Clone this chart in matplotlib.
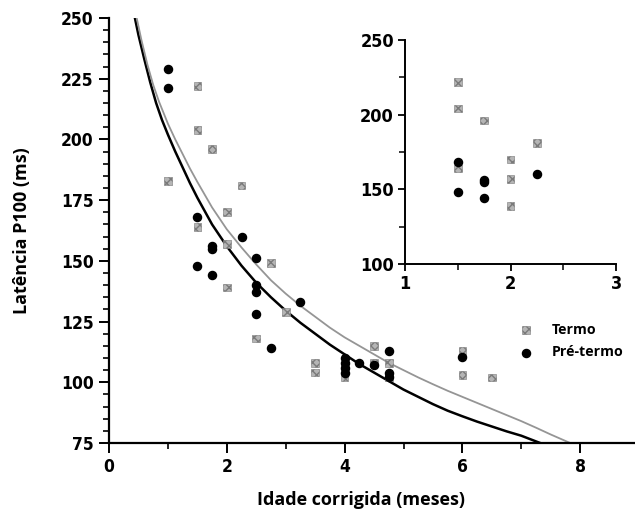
import matplotlib.pyplot as plt
import numpy as np

# Dados (idade corrigida em meses, latência P100 em ms)
termo_x = [1.0, 1.5, 1.5, 1.5, 1.75, 2.0, 2.0, 2.0, 2.25, 2.5, 2.75, 3.0,
           3.5, 3.5, 4.0, 4.0, 4.5, 4.5, 4.75, 4.75, 6.0, 6.0, 6.5]
termo_y = [183, 222, 204, 164, 196, 170, 157, 139, 181, 118, 149, 129,
           108, 104, 102, 106, 115, 108, 108, 102, 113, 103, 102]

pre_x = [1.0, 1.0, 1.5, 1.5, 1.75, 1.75, 1.75, 2.25, 2.5, 2.5, 2.5, 2.5,
         2.75, 3.25, 4.0, 4.0, 4.0, 4.0, 4.25, 4.5, 4.75, 4.75, 4.75, 6.0]
pre_y = [229, 221, 168, 148, 156, 155, 144, 160, 151, 140, 137, 128,
         114, 133, 110, 108, 106, 104, 108, 107, 113, 104, 102, 110.5]

# Curvas de ajuste (lidas ponto a ponto)
curva_pre_x = [0.44, 0.5, 0.6, 0.7, 0.8, 0.9, 1.0, 1.125, 1.25, 1.375, 1.5,
               1.75, 2.0, 2.25, 2.5, 2.75, 3.0, 3.25, 3.5, 3.75, 4.0, 4.25,
               4.5, 4.75, 5.0, 5.25, 5.5, 5.75, 6.0, 6.25, 6.5, 6.75, 7.0,
               7.32]
curva_pre_y = [250, 243, 233, 223.5, 215, 208, 202, 195, 188.5, 182, 176,
               165, 156, 148, 141, 135, 129.5, 124.5, 120, 115.5, 111.5,
               107.5, 104, 100.5, 97, 94, 91, 88.3, 86, 83.8, 81.8, 79.8,
               78, 75]
curva_termo_x = [0.47, 0.55, 0.65, 0.75, 0.85, 1.0, 1.125, 1.25, 1.375, 1.5,
                 1.75, 2.0, 2.25, 2.5, 2.75, 3.0, 3.25, 3.5, 3.75, 4.0, 4.25,
                 4.5, 4.75, 5.0, 5.25, 5.5, 5.75, 6.0, 6.25, 6.5, 6.75, 7.0,
                 7.25, 7.5, 7.83]
curva_termo_y = [250, 241, 231, 222.5, 215.5, 206.5, 200, 194, 188, 182.5,
                 172, 163, 155.5, 148.5, 142, 136.5, 131.5, 127, 122.5, 118.5,
                 115, 111.5, 108, 105, 102, 99.2, 96.5, 94, 91.5, 89, 86.5,
                 84, 81.3, 78.5, 75]

plt.rcParams['font.family'] = 'DejaVu Sans'
plt.rcParams['font.stretch'] = 'condensed'
plt.rcParams['font.weight'] = 'bold'

fig = plt.figure(figsize=(6.35, 5.19), dpi=100)
ax = fig.add_axes([109/635, 76/519, 526/635, 425/519])

ax.plot(curva_pre_x, curva_pre_y, color='black', lw=1.8, zorder=2)
ax.plot(curva_termo_x, curva_termo_y, color='#959595', lw=1.3, zorder=2)

ax.scatter(termo_x, termo_y, marker='s', s=30, facecolor='#b5b5b5',
           edgecolor='#7a7a7a', hatch='xxxx', linewidths=0.4, zorder=3,
           label='Termo')
ax.scatter(pre_x, pre_y, marker='o', s=34, color='black', zorder=4,
           label='Pré-termo')

ax.set_xlim(0, 526/58.9)
ax.set_ylim(75, 250)
ax.set_xticks([0, 2, 4, 6, 8])
ax.set_xticks([1, 3, 5, 7], minor=True)
ax.set_yticks([75, 100, 125, 150, 175, 200, 225, 250])
ax.set_yticks(np.arange(75, 251, 5), minor=True)
for s in ['top', 'right']:
    ax.spines[s].set_visible(False)
for s in ['left', 'bottom']:
    ax.spines[s].set_linewidth(1.6)
ax.tick_params(which='major', direction='out', length=7, width=1.4,
               labelsize=12.5, pad=4)
ax.tick_params(which='minor', direction='out', length=4, width=1.2)

fig.text(22/635, 1 - 231/519, 'Latência P100 (ms)', rotation=90,
         ha='center', va='center', fontsize=13, family='Open Sans',
         weight='bold', stretch='normal')
fig.text(361/635, 1 - 500/519, 'Idade corrigida (meses)', ha='center',
         va='center', fontsize=13, family='Open Sans', weight='bold',
         stretch='normal')

fig.legend(loc='center left', bbox_to_anchor=(508/635, 1 - 341/519),
           frameon=False, prop={'family': 'Open Sans', 'weight': 'bold',
                                'size': 10.2, 'stretch': 'normal'},
           handletextpad=1.1, labelspacing=0.6, borderpad=0,
           handlelength=1.5)

# Gráfico inserido (detalhe entre 1 e 3 meses)
axi = fig.add_axes([405/635, 1 - 264/519, 211/635, 224/519])
mt = [(x, y) for x, y in zip(termo_x, termo_y) if 1.25 < x < 2.4]
mp = [(x, y) for x, y in zip(pre_x, pre_y) if 1.25 < x < 2.4]
axi.scatter([p[0] for p in mt], [p[1] for p in mt], marker='s', s=30,
            facecolor='#b5b5b5', edgecolor='#7a7a7a', hatch='xxxx',
            linewidths=0.4, zorder=3)
axi.scatter([p[0] for p in mp], [p[1] for p in mp], marker='o', s=34,
            color='black', zorder=4)
axi.set_xlim(1, 3)
axi.set_ylim(100, 250)
axi.set_xticks([1, 2, 3])
axi.set_xticks([1.5, 2.5], minor=True)
axi.set_yticks([100, 150, 200, 250])
axi.set_yticks([125, 175, 225], minor=True)
for s in ['top', 'right']:
    axi.spines[s].set_visible(False)
for s in ['left', 'bottom']:
    axi.spines[s].set_linewidth(1.4)
axi.tick_params(which='major', direction='out', length=5, width=1.3,
                labelsize=13, pad=3)
axi.tick_params(which='minor', direction='out', length=4, width=1.1)

fig.savefig('out.png', dpi=100)
